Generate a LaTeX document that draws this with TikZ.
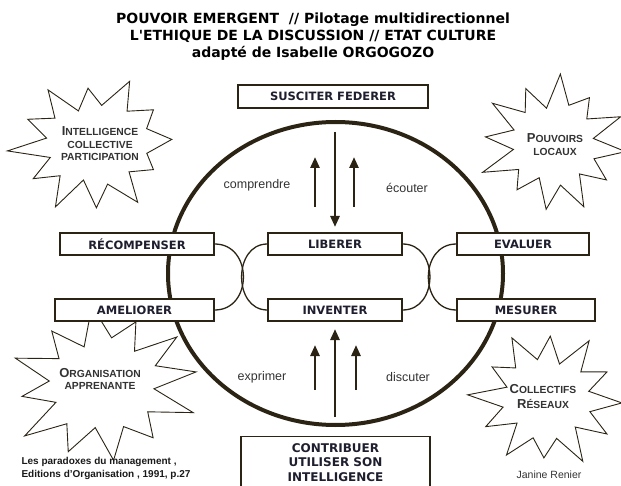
\documentclass[tikz,border=0pt]{standalone}
\usepackage{fontspec}
\setmainfont{Liberation Sans}
\newfontfamily\titlefont{DejaVu Sans}
\usetikzlibrary{arrows.meta,shapes.geometric}
\definecolor{ink}{HTML}{2B2414}
\definecolor{lbl}{HTML}{1E1E2E}
\definecolor{gr}{HTML}{333333}
\tikzset{
  lbox/.style={draw=ink, line width=1.4pt, fill=white, inner sep=0pt, font=\titlefont\bfseries\fontsize{11.5}{13}\selectfont, text=lbl},
  link/.style={draw=ink, line width=1.3pt},
  bigarrow/.style={draw=ink, line width=2.6pt, -{Triangle[width=9pt,length=11pt]}},
  burst/.style={draw=ink, line width=0.9pt, fill=white, line join=miter},
  bursttext/.style={font=\bfseries\fontsize{10.3}{12.5}\selectfont, text=gr, align=center},
  verb/.style={font=\fontsize{12.5}{14}\selectfont, text=gr},
}
\newcommand{\initcap}[1]{{\fontsize{13}{12}\selectfont #1}}
% #1 cx, #2 cy, #3 rx, #4 ry, #5 rotation, #6 list of 23 factors (angles 15,30,...,345)
\newcommand{\drawburst}[6]{%
  \begin{scope}[shift={(#1,#2)}, rotate=#5]
    \draw[burst] (0:#3pt and #4pt)
      \foreach \f [count=\i, evaluate=\i as \a using \i*15, evaluate=\f as \rx using \f*#3, evaluate=\f as \ry using \f*#4] in {#6} { -- (\a:\rx pt and \ry pt) } -- cycle;
  \end{scope}}
\begin{document}
\begin{tikzpicture}[x=1pt,y=-1pt]
\useasboundingbox (0,0) rectangle (621,486);
\begin{scope}
\clip (0,0) rectangle (621,486);
% title
\node[font=\titlefont\bfseries\fontsize{14}{17}\selectfont, align=center] (title) at (313,37)
  {POUVOIR EMERGENT~ // Pilotage multidirectionnel\\ L'ETHIQUE DE LA DISCUSSION // ETAT CULTURE\\ adapté de Isabelle ORGOGOZO};
% big circle
\node[ellipse, draw=ink, line width=4pt, minimum width=335pt, minimum height=303pt, inner sep=0pt] (circ) at (335.5,273.5) {};
% stars
\drawburst{92}{145}{80}{67}{4}{0.72,0.92,0.66,1.05,0.6,0.85,0.54,1.0,0.62,0.9,0.58,1.06,0.55,0.88,0.6,1.02,0.53,0.94,0.62,1.04,0.62,0.86,0.7}
\drawburst{553}{144}{73}{67}{-6}{0.56,1.02,0.6,0.86,0.62,1.05,0.54,0.9,0.6,1.02,0.57,0.93,0.55,1.06,0.61,0.85,0.54,0.98,0.62,1.02,0.57,0.9,0.6}
\drawburst{103}{385}{94}{76}{8}{0.6,0.98,0.54,0.88,0.62,1.05,0.55,0.92,0.6,1.02,0.58,0.87,0.54,1.04,0.62,0.93,0.56,1.0,0.6,0.9,0.61,1.05,0.55}
\drawburst{547}{399}{75}{67}{-3}{0.57,0.9,0.61,1.04,0.55,0.94,0.6,1.02,0.62,0.87,0.56,1.06,0.6,0.92,0.54,1.0,0.61,0.88,0.6,1.04,0.56,0.95,0.6}
\node[bursttext] (t1) at (100,144) {\initcap{I}NTELLIGENCE\\ COLLECTIVE\\ PARTICIPATION};
\node[bursttext] (t2) at (555,144.5) {\initcap{P}OUVOIRS\\ LOCAUX};
\node[bursttext] (t3) at (100,379) {\initcap{O}RGANISATION\\ APPRENANTE};
\node[bursttext, font=\bfseries\fontsize{10.3}{15}\selectfont] (t4) at (543,397) {\initcap{C}OLLECTIFS\\ \initcap{R}ÉSEAUX};
% boxes
\node[lbox, minimum width=190pt, minimum height=23pt] (sus) at (333,96.5) {SUSCITER FEDERER};
\node[lbox, minimum width=154pt, minimum height=22pt] (rec) at (137,244) {RÉCOMPENSER};
\node[lbox, minimum width=159pt, minimum height=22pt] (ame) at (134.5,310) {AMELIORER};
\node[lbox, minimum width=134pt, minimum height=22pt] (lib) at (335,244) {LIBERER};
\node[lbox, minimum width=134pt, minimum height=22pt] (inv) at (335,310) {INVENTER};
\node[lbox, minimum width=132pt, minimum height=22pt] (eva) at (523,244) {EVALUER};
\node[lbox, minimum width=138pt, minimum height=22pt] (mes) at (526,310) {MESURER};
\node[lbox, minimum width=189pt, minimum height=60pt, anchor=north] (con) at (335.5,436) {};
\node[font=\titlefont\bfseries\fontsize{12}{14.5}\selectfont, text=lbl, align=center] (cont) at (335.5,462.5)
  {CONTRIBUER\\ UTILISER SON\\ INTELLIGENCE};
% links
\draw[link] (rec.east) .. controls (253,244) and (253,310) .. (ame.east);
\draw[link] (lib.west) .. controls (233,244) and (233,310) .. (inv.west);
\draw[link] (lib.east) .. controls (439,244) and (439,310) .. (inv.east);
\draw[link] (eva.west) .. controls (419,244) and (419,310) .. (mes.west);
% arrows top
\coordinate (d1) at (335,132); \coordinate (d2) at (335,227);
\coordinate (u1a) at (315,207); \coordinate (u1b) at (315,157);
\coordinate (u2a) at (354,207); \coordinate (u2b) at (354,157);
\draw[bigarrow] (d1) -- (d2);
\draw[bigarrow] (u1a) -- (u1b);
\draw[bigarrow] (u2a) -- (u2b);
% arrows bottom
\coordinate (b0a) at (335,417); \coordinate (b0b) at (335,329);
\coordinate (b1a) at (315,390); \coordinate (b1b) at (315,345);
\coordinate (b2a) at (356,390); \coordinate (b2b) at (356,345);
\draw[bigarrow] (b0a) -- (b0b);
\draw[bigarrow] (b1a) -- (b1b);
\draw[bigarrow] (b2a) -- (b2b);
% verbs
\node[verb] (v1) at (257,185) {comprendre};
\node[verb] (v2) at (407,188) {écouter};
\node[verb] (v3) at (262,377) {exprimer};
\node[verb] (v4) at (408,377) {discuter};
% credits
\node[font=\bfseries\fontsize{10}{13}\selectfont, align=left, anchor=west, text=black!90] (cite) at (18,468)
  {Les paradoxes du management ,\\ Editions d'Organisation , 1991, p.27};
\node[font=\fontsize{10.5}{12}\selectfont, text=gr] (auth) at (549,475) {Janine Renier};
\end{scope}
\end{tikzpicture}
\end{document}
